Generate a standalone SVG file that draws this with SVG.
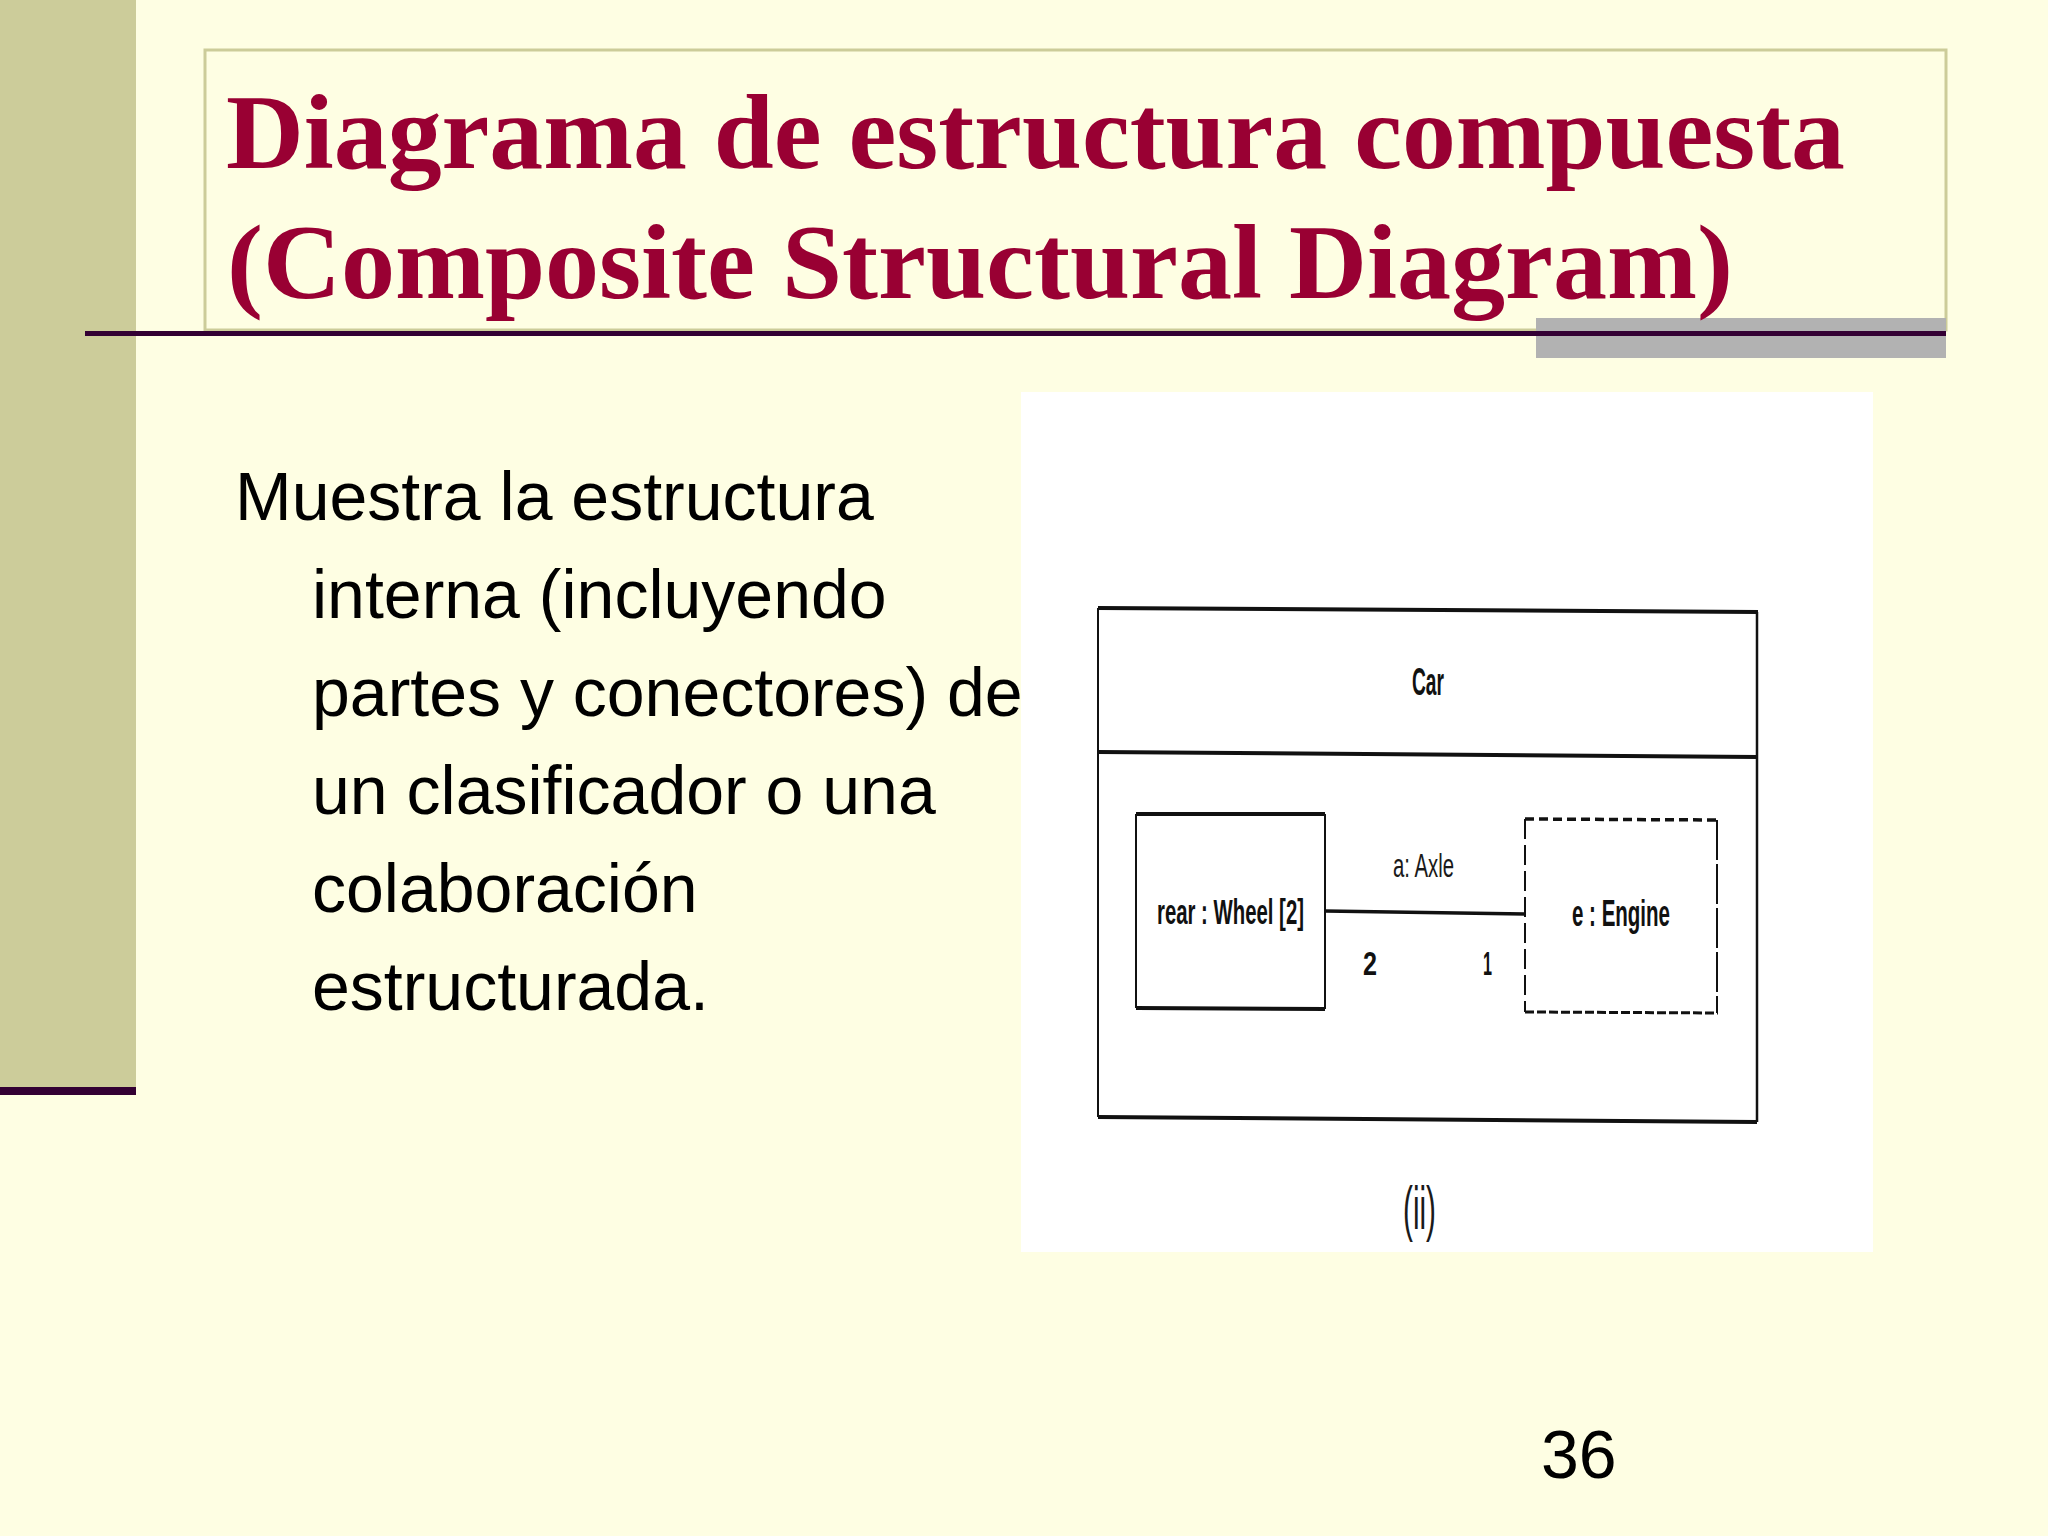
<svg xmlns="http://www.w3.org/2000/svg" width="2048" height="1536" viewBox="0 0 2048 1536">
<style>
.title{font-family:"Liberation Serif","Times New Roman",serif;font-weight:bold;font-size:106px;fill:#990033}
.body{font-family:"Liberation Sans",Arial,sans-serif;font-size:68px;fill:#000}
.lbl{font-family:"Liberation Sans",Arial,sans-serif;font-weight:bold;font-size:35px;fill:#111}
.lbln{font-family:"Liberation Sans",Arial,sans-serif;font-size:34px;fill:#1a1a1a}
.edge{stroke:#111;fill:none}
</style>
<rect x="0" y="0" width="2048" height="1536" fill="#fefee3"/>
<g id="left-bar">
<rect x="0" y="0" width="136" height="1090" fill="#cccc9a"/>
<rect x="0" y="1087" width="136" height="8" fill="#330033"/>
</g>
<g id="title">
<rect x="205" y="50" width="1741" height="280" fill="none" stroke="#cccc99" stroke-width="3"/>
<rect x="1536" y="318" width="410" height="40" fill="#b2b2b2"/>
<rect x="85" y="331" width="1861" height="5" fill="#330033"/>
<text class="title" x="226" y="168" textLength="1619" lengthAdjust="spacingAndGlyphs">Diagrama de estructura compuesta</text>
<text class="title" x="227" y="298" textLength="1506" lengthAdjust="spacingAndGlyphs">(Composite Structural Diagram)</text>
</g>
<g id="body-text">
<text class="body" x="235" y="520">Muestra la estructura</text>
<text class="body" x="312" y="618">interna (incluyendo</text>
<text class="body" x="312" y="716">partes y conectores) de</text>
<text class="body" x="312" y="814">un clasificador o una</text>
<text class="body" x="312" y="912">colaboración</text>
<text class="body" x="312" y="1010">estructurada.</text>
</g>
<g id="figure">
<rect x="1021" y="392" width="852" height="860" fill="#ffffff"/>
</g>
<g id="car">
<path class="edge" d="M1098 608 L1758 612" stroke-width="4"/>
<path class="edge" d="M1098 752 L1758 757" stroke-width="4"/>
<path class="edge" d="M1098 1117 L1757 1122" stroke-width="4"/>
<path class="edge" d="M1098 608 L1098 1117" stroke-width="2"/>
<path class="edge" d="M1757 612 L1757 1122" stroke-width="2.5"/>
<text class="lbl" x="1412" y="695" style="font-size:39px" textLength="32" lengthAdjust="spacingAndGlyphs">Car</text>
</g>
<g id="wheel">
<path class="edge" d="M1136 814 L1325 814" stroke-width="4"/>
<path class="edge" d="M1136 1008 L1325 1009" stroke-width="4"/>
<path class="edge" d="M1136 814 L1136 1008" stroke-width="2"/>
<path class="edge" d="M1325 814 L1325 1009" stroke-width="2"/>
<text class="lbl" x="1157" y="924" textLength="147" lengthAdjust="spacingAndGlyphs">rear : Wheel [2]</text>
</g>
<g id="engine">
<path class="edge" d="M1525 819 L1718 820" stroke-width="3.5" stroke-dasharray="9 5"/>
<path class="edge" d="M1525 1012 L1718 1013" stroke-width="3" stroke-dasharray="9 3"/>
<path class="edge" d="M1525 819 L1525 1012" stroke-width="2" stroke-dasharray="20 6"/>
<path class="edge" d="M1717 820 L1717 1013" stroke-width="2" stroke-dasharray="40 4"/>
<text class="lbl" x="1572" y="926" style="font-size:37px" textLength="98" lengthAdjust="spacingAndGlyphs">e : Engine</text>
</g>
<g id="connectors">
<path class="edge" d="M1325 911 L1525 914" stroke-width="3.5"/>
<text class="lbln" x="1393" y="877" textLength="61" lengthAdjust="spacingAndGlyphs">a: Axle</text>
<text class="lbl" x="1363" y="975" style="font-size:34px" textLength="14" lengthAdjust="spacingAndGlyphs">2</text>
<text class="lbl" x="1483" y="975" style="font-size:34px" textLength="9" lengthAdjust="spacingAndGlyphs">1</text>
</g>
<g id="caption">
<text class="lbln" x="1403" y="1229" style="font-size:62px" textLength="33" lengthAdjust="spacingAndGlyphs">(ii)</text>
</g>
<text class="body" x="1541" y="1478">36</text>
</svg>
